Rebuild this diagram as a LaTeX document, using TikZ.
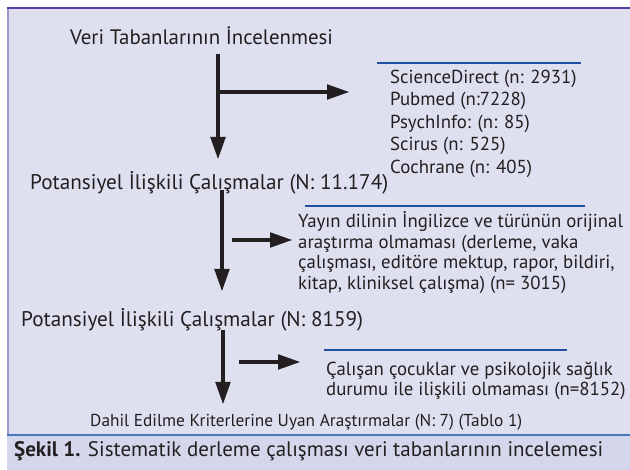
\documentclass[tikz,border=0pt]{standalone}
\usepackage{fontspec}
\setmainfont{PT Sans}
\usetikzlibrary{arrows.meta}
\definecolor{panel}{HTML}{DEE0F0}
\definecolor{band}{HTML}{D4D7EC}
\definecolor{topedge}{HTML}{5A3DAA}
\definecolor{leftedge}{HTML}{A395CB}
\definecolor{sepblue}{HTML}{4A78C0}
\definecolor{ruleblue}{HTML}{2050A0}
\definecolor{ink}{HTML}{231F20}

\begin{document}
\begin{tikzpicture}[x=1pt,y=-1pt,
  flow/.style={line width=4.8pt,draw=ink,-{Triangle[length=23pt,width=14pt]}},
  rule/.style={line width=2pt,draw=ruleblue},
  lbl/.style={anchor=base west,inner sep=0pt,text=ink,font=\fontsize{21.2}{24}\selectfont},
  note/.style={anchor=west,inner sep=0pt,text=ink,align=left,font=\fontsize{18.8}{22.5}\selectfont}]
  \useasboundingbox (0,0) rectangle (630,470);
  \fill[white] (0,0) rectangle (630,470);
  \fill[panel] (7,8) rectangle (630,435);
  \fill[band] (7,435) rectangle (630,470);
  \draw[line width=2pt,leftedge] (7.5,8) -- (7.5,435);
  \draw[line width=1.6pt,topedge] (6.5,8) -- (630,8);
  \draw[line width=1.2pt,sepblue] (7,435) -- (630,435);

  \node[lbl,font=\fontsize{20.9}{24}\selectfont] (veri) at (70,44.4) {Veri Tabanlarının İncelenmesi};
  \draw[rule] (377,63) -- (581,63);
  \node[note] (db) at (390,123.4) {ScienceDirect (n: 2931)\\Pubmed (n:7228)\\PsychInfo: (n: 85)\\Scirus (n: 525)\\Cochrane (n: 405)};
  \node[lbl] (pot1) at (30,189.4) {Potansiyel İlişkili Çalışmalar (N: 11.174)};
  \draw[rule] (305,206) -- (585,206);
  \node[note,font=\fontsize{18.8}{20.4}\selectfont] (excl1) at (298,252.5) {Yayın dilinin İngilizce ve türünün orijinal\\araştırma olmaması (derleme, vaka\\çalışması, editöre mektup, rapor, bildiri,\\kitap, kliniksel çalışma) (n= 3015)};
  \node[lbl] (pot2) at (21,326.4) {Potansiyel İlişkili Çalışmalar (N: 8159)};
  \draw[rule] (324,350) -- (567,350);
  \node[note,font=\fontsize{18.8}{20}\selectfont] (excl2) at (326,380.5) {Çalışan çocuklar ve psikolojik sağlık\\durumu ile ilişkili olmaması (n=8152)};
  \node[lbl,font=\fontsize{17.3}{20}\selectfont] (incl) at (90,426.7) {Dahil Edilme Kriterlerine Uyan Araştırmalar (N: 7) (Tablo 1)};
  \node[lbl,font=\fontsize{21}{24}\selectfont] (cap) at (14,456.4) {\textbf{Şekil 1.} Sistematik derleme çalışması veri tabanlarının incelemesi};

  \coordinate (veri-out) at (218,54);
  \coordinate (pot1-in) at (218,160);
  \coordinate (db-in) at (350,92);
  \coordinate (pot1-out) at (222,190);
  \coordinate (pot2-in) at (222,292);
  \coordinate (ex1-out) at (232,240);
  \coordinate (excl1-in) at (293,240);
  \coordinate (pot2-out) at (223,330);
  \coordinate (incl-in) at (223,405);
  \coordinate (ex2-out) at (239,362);
  \coordinate (excl2-in) at (301,362);

  \draw[flow] (veri-out) -- (pot1-in);
  \draw[flow] (veri-out |- db-in) -- (db-in);
  \draw[flow] (pot1-out) -- (pot2-in);
  \draw[flow] (ex1-out) -- (excl1-in);
  \draw[flow] (pot2-out) -- (incl-in);
  \draw[flow] (ex2-out) -- (excl2-in);
\end{tikzpicture}
\end{document}
